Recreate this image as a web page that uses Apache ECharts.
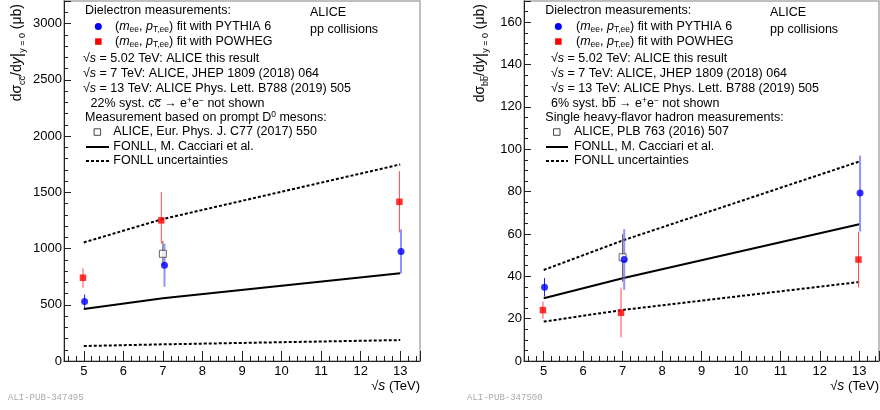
<!DOCTYPE html>
<html><head><meta charset="utf-8">
<script src="https://cdn.jsdelivr.net/npm/echarts@6/dist/echarts.min.js"></script>
<style>html,body{margin:0;padding:0;background:#fff}#c{width:880px;height:410px}</style>
</head><body><div id="c"></div>
<script>
// ---------- data ----------
// charm (left panel), values in microbarn
const ccPythiaX = [5.02, 7.04, 13.02];
const ccPythia = [530, 852, 973];
const ccPythiaLow = [468, 660, 779];
const ccPythiaHigh = [592, 1042, 1170];
const ccPowhegX = [4.98, 6.96, 12.98];
const ccPowheg = [740, 1250, 1415];
const ccPowhegLow = [651, 1045, 1143];
const ccPowhegHigh = [823, 1503, 1687];
const ccD0X = [7.0];
const ccD0 = [953];
const ccD0Low = [850];
const ccD0High = [1068];
const fonllX = [5, 7, 13];
const ccFonll = [462, 557, 779];
const ccFonllUp = [1054, 1262, 1747];
const ccFonllLo = [133, 148, 186];
// beauty (right panel)
const bbPythiaX = [5.02, 7.04, 13.02];
const bbPythia = [34.8, 47.9, 79.3];
const bbPythiaLow = [30.4, 33.6, 61.1];
const bbPythiaHigh = [39.2, 62.3, 97.0];
const bbPowhegX = [4.98, 6.96, 12.98];
const bbPowheg = [24.0, 22.8, 47.9];
const bbPowhegLow = [19.9, 11.2, 34.8];
const bbPowhegHigh = [28.0, 34.7, 61.0];
const bbHFX = [7.0];
const bbHF = [49.0];
const bbHFLow = [37.5];
const bbHFHigh = [60.0];
const bbFonll = [29.6, 39.1, 64.6];
const bbFonllUp = [43.0, 56.9, 94.2];
const bbFonllLo = [18.6, 24.1, 37.3];
// axis ticks
const xMin = 4.5, xMax = 13.5;
const ccYMax = 3200, ccYStep = 500;
const bbYMax = 170, bbYStep = 20;

// ---------- helpers ----------
const FONT = '"Liberation Sans", Arial, Helvetica, sans-serif';
const FS = 12.5;
const pts = (xs, ys) => xs.map((x, i) => [x, ys[i]]);
const errs = (xs, lo, hi) => xs.map((x, i) => [x, lo[i], hi[i]]);

function errSeries(gi, data, styleFn, z) {
  return {
    type: 'custom', xAxisIndex: gi, yAxisIndex: gi, z: z || 3,
    encode: { x: 0, y: [1, 2] },
    data: data,
    silent: true,
    renderItem: function (params, api) {
      const x = api.value(0), lo = api.value(1), hi = api.value(2);
      const p1 = api.coord([x, lo]), p2 = api.coord([x, hi]);
      const st = styleFn(params.dataIndex);
      return { type: 'line', shape: { x1: p1[0], y1: p1[1], x2: p2[0], y2: p2[1] },
               style: { stroke: st.c, lineWidth: st.w } };
    }
  };
}
function lineSeries(gi, data, dashed) {
  return { type: 'line', xAxisIndex: gi, yAxisIndex: gi, data: data, symbol: 'none', z: 2,
    silent: true, animation: false,
    lineStyle: { color: '#000', width: 2, type: dashed ? [3, 2] : 'solid' } };
}
function markSeries(gi, data, kind, z) {
  const base = { type: 'scatter', xAxisIndex: gi, yAxisIndex: gi, data: data, z: z || 5, silent: true };
  if (kind === 'circle') return Object.assign(base, { symbol: 'circle', symbolSize: 7, itemStyle: { color: '#0000ff' } });
  if (kind === 'square') return Object.assign(base, { symbol: 'rect', symbolSize: 6.5, itemStyle: { color: '#ff0000' } });
  return Object.assign(base, { symbol: 'rect', symbolSize: 7, itemStyle: { color: '#fff', borderColor: '#444', borderWidth: 1 } });
}
function xAxisCfg(gi) {
  return { gridIndex: gi, type: 'value', min: xMin, max: xMax, splitNumber: 9,
    axisLine: { show: true, onZero: false, lineStyle: { color: '#222', width: 1 } },
    axisTick: { show: true, inside: true, length: 10, lineStyle: { color: '#222' } },
    minorTick: { show: true, splitNumber: 5, length: 5, lineStyle: { color: '#222' } },
    splitLine: { show: false },
    axisLabel: { fontSize: 13, fontFamily: FONT, color: '#000', margin: 4, showMinLabel: false, showMaxLabel: false,
      formatter: v => String(v) } };
}
function yAxisCfg(gi, max, step, minor) {
  return { gridIndex: gi, type: 'value', min: 0, max: max, interval: step,
    axisLine: { show: true, lineStyle: { color: '#222', width: 1 } },
    axisTick: { show: true, inside: true, length: 7, lineStyle: { color: '#222' } },
    minorTick: { show: true, splitNumber: minor, length: 4, lineStyle: { color: '#222' } },
    splitLine: { show: false },
    axisLabel: { fontSize: 13, fontFamily: FONT, color: '#000', margin: 2, showMaxLabel: false,
      formatter: v => String(v) } };
}

const RICH = {
  i: { fontStyle: 'italic', fontSize: FS, fontFamily: FONT, lineHeight: 16 },
  sub: { fontSize: 8.5, fontFamily: FONT, verticalAlign: 'bottom', lineHeight: 8 },
  sup: { fontSize: 8.5, fontFamily: FONT, verticalAlign: 'top', lineHeight: 8 }
};
function txt(x, y, text, extra) {
  return { type: 'text', x: x, y: y, z: 100, silent: true,
    style: Object.assign({ text: text, fontSize: FS, fontFamily: FONT, fill: '#000',
      align: 'left', verticalAlign: 'middle', lineHeight: 16, rich: RICH }, extra || {}) };
}
const TRICH = {
  i: { fontStyle: 'italic', fontSize: 14, fontFamily: FONT, lineHeight: 20 },
  sub: { fontSize: 9, fontFamily: FONT, verticalAlign: 'bottom', lineHeight: 9 },
  bar: { fontSize: 17, fontFamily: FONT, lineHeight: 20 }
};
function ytitle(x, y, q) {
  return { type: 'text', x: x, y: y, rotation: Math.PI / 2, z: 100, silent: true,
    style: { text: 'dσ{sub|' + q + '}/d{i|y}{bar||}{sub|y = 0} (μb)', fontSize: 14, fontFamily: FONT,
      fill: '#000', align: 'right', verticalAlign: 'middle', lineHeight: 20, rich: TRICH } };
}
const SQ = '√{i|s}';
function legendBlock(o) {
  const g = [];
  g.push(txt(o.x0, 11, 'Dielectron measurements:'));
  g.push({ type: 'circle', z: 100, shape: { cx: o.mx, cy: 26.5, r: 3.5 }, style: { fill: '#0000ff' } });
  g.push(txt(o.tx, 26.5, '({i|m}{sub|ee}, {i|p}{sub|T,ee}) fit with PYTHIA 6'));
  g.push({ type: 'rect', z: 100, shape: { x: o.mx - 3.2, y: 41.5 - 3.2, width: 6.5, height: 6.5 }, style: { fill: '#ff0000' } });
  g.push(txt(o.tx, 41.5, '({i|m}{sub|ee}, {i|p}{sub|T,ee}) fit with POWHEG'));
  g.push(txt(o.sx, 59, SQ + ' = 5.02 TeV: ALICE this result'));
  g.push(txt(o.sx, 74, SQ + ' = 7 TeV: ALICE, JHEP 1809 (2018) 064'));
  g.push(txt(o.sx, 89, SQ + ' = 13 TeV: ALICE Phys. Lett. B788 (2019) 505'));
  g.push(txt(o.px, 104, o.syst));
  g.push(txt(o.x0, 118, o.meas));
  g.push({ type: 'rect', z: 100, shape: { x: o.qx - 3.2, y: 132 - 3.2, width: 6.5, height: 6.5 }, style: { fill: '#fff', stroke: '#444', lineWidth: 1 } });
  g.push(txt(o.qt, 132, o.ref));
  g.push({ type: 'line', z: 100, shape: { x1: o.l1, y1: 147, x2: o.l2, y2: 147 }, style: { stroke: '#000', lineWidth: 2 } });
  g.push(txt(o.qt, 147, 'FONLL, M. Cacciari et al.'));
  g.push({ type: 'line', z: 100, shape: { x1: o.l1, y1: 161, x2: o.l2, y2: 161 }, style: { stroke: '#000', lineWidth: 2, lineDash: [3, 2] } });
  g.push(txt(o.qt, 161, 'FONLL uncertainties'));
  g.push(txt(o.ax, 13, 'ALICE'));
  g.push(txt(o.ax, 30, 'pp collisions'));
  return g;
}

const graphics = [].concat(
  legendBlock({ x0: 85, mx: 98.3, tx: 115, sx: 83, px: 90.5, qx: 97.3, qt: 113.3, l1: 86, l2: 109, ax: 310,
    syst: '22% syst. cc\u0305 → e{sup|+}e{sup|−} not shown',
    meas: 'Measurement based on prompt D{sup|0} mesons:', ref: 'ALICE, Eur. Phys. J. C77 (2017) 550' }),
  legendBlock({ x0: 545.3, mx: 558.3, tx: 576, sx: 551, px: 551, qx: 556.7, qt: 574, l1: 546, l2: 568, ax: 770,
    syst: '6% syst. bb\u0305 → e{sup|+}e{sup|−} not shown',
    meas: 'Single heavy-flavor hadron measurements:', ref: 'ALICE, PLB 763 (2016) 507' }),
  [
    ytitle(17, 4, 'cc\u0305'),
    ytitle(480, 4, 'bb\u0305'),
    txt(420, 386, '√{xi|s} (TeV)', { align: 'right', fontSize: 13,
      rich: { xi: { fontStyle: 'italic', fontSize: 14, fontFamily: FONT } } }),
    txt(879, 386, '√{xi|s} (TeV)', { align: 'right', fontSize: 13,
      rich: { xi: { fontStyle: 'italic', fontSize: 14, fontFamily: FONT } } }),
    txt(8, 397.5, 'ALI-PUB-347495', { fontSize: 9, fontFamily: '"Liberation Mono", "DejaVu Sans Mono", monospace', fill: '#aaa' }),
    txt(467, 397.5, 'ALI-PUB-347500', { fontSize: 9, fontFamily: '"Liberation Mono", "DejaVu Sans Mono", monospace', fill: '#aaa' })
  ]
);

const blueThin = { c: '#2020ff', w: 1 };
const blueWide = { c: 'rgba(110,110,255,0.75)', w: 2 };
const redBar = { c: '#ff4a4a', w: 1 };
const grayBar = { c: '#555', w: 1 };

const option = {
  animation: false,
  backgroundColor: '#fff',
  grid: [
    { left: 64, right: 460, top: 1, bottom: 49, show: true, borderColor: '#aaa', borderWidth: 1.5 },
    { left: 524, right: 1, top: 1, bottom: 49, show: true, borderColor: '#aaa', borderWidth: 1.5 }
  ],
  xAxis: [xAxisCfg(0), xAxisCfg(1)],
  yAxis: [yAxisCfg(0, ccYMax, ccYStep, 5), yAxisCfg(1, bbYMax, bbYStep, 4)],
  series: [
    lineSeries(0, pts(fonllX, ccFonll), false),
    lineSeries(0, pts(fonllX, ccFonllUp), true),
    lineSeries(0, pts(fonllX, ccFonllLo), true),
    errSeries(0, errs(ccPythiaX, ccPythiaLow, ccPythiaHigh), i => i === 0 ? blueThin : blueWide),
    errSeries(0, errs(ccPowhegX, ccPowhegLow, ccPowhegHigh), () => redBar),
    errSeries(0, errs(ccD0X, ccD0Low, ccD0High), () => grayBar, 2.5),
    markSeries(0, pts(ccD0X, ccD0), 'open', 4),
    markSeries(0, pts(ccPowhegX, ccPowheg), 'square'),
    markSeries(0, pts(ccPythiaX, ccPythia), 'circle'),

    lineSeries(1, pts(fonllX, bbFonll), false),
    lineSeries(1, pts(fonllX, bbFonllUp), true),
    lineSeries(1, pts(fonllX, bbFonllLo), true),
    errSeries(1, errs(bbPythiaX, bbPythiaLow, bbPythiaHigh), i => i === 0 ? blueThin : blueWide),
    errSeries(1, errs(bbPowhegX, bbPowhegLow, bbPowhegHigh), () => redBar),
    errSeries(1, errs(bbHFX, bbHFLow, bbHFHigh), () => grayBar, 2.5),
    markSeries(1, pts(bbHFX, bbHF), 'open', 4),
    markSeries(1, pts(bbPowhegX, bbPowheg), 'square'),
    markSeries(1, pts(bbPythiaX, bbPythia), 'circle')
  ],
  graphic: graphics
};
const chart = echarts.init(document.getElementById('c'), null, { renderer: 'canvas' });
chart.setOption(option);
</script></body></html>
